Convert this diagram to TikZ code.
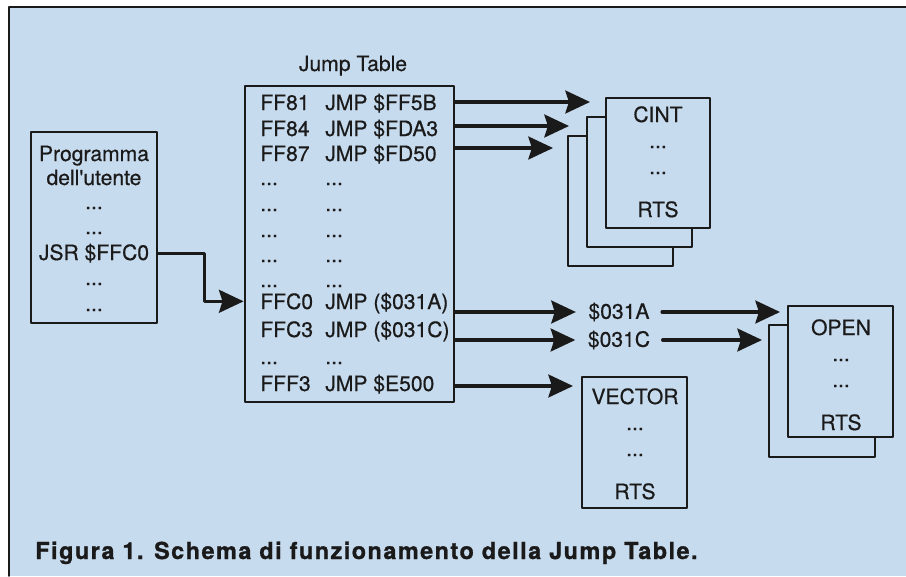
\documentclass[tikz,border=0pt]{standalone}
\usepackage{fontspec}
\setmainfont{TeX Gyre Heros}
\newfontfamily\diagfont[FakeBold=0.5]{TeX Gyre Heros}
\newfontfamily\capfont[LetterSpace=6.5,FakeBold=1]{TeX Gyre Heros}
\usetikzlibrary{arrows.meta,fit}
\definecolor{PaperBlue}{HTML}{C7DBEE}
\definecolor{Ink}{HTML}{1A1A1A}
\tikzset{
  page/.style={draw=Ink,fill=PaperBlue,line width=1.6pt,inner sep=0pt},
  lbl/.style={text=Ink,font=\diagfont\fontsize{12}{14}\selectfont,inner sep=0pt},
  jump/.style={-{Stealth[length=14pt,width=13pt,inset=2pt]},draw=Ink,
               line width=1.9pt},
}
\newcommand{\drawpage}[5]{%
  \node[page,fit={(#2,#3) (#4,#5)}] (#1) {};%
}
\newcommand{\drawroutine}[4]{%
  \node[lbl,anchor=base] (#1name) at (#2,#3) {#4};
  \node[lbl,anchor=base] (#1dotsa) at (#2,{#3-26}) {...};
  \node[lbl,anchor=base] (#1dotsb) at (#2,{#3-52}) {...};
  \node[lbl,anchor=base] (#1rts) at (#2,{#3-95}) {RTS};%
}
\newcommand{\tablerow}[4]{%
  \node[lbl,anchor=base west] (adr#1) at (260,#2) {#3};
  \node[lbl,anchor=base west] (ins#1) at (325,#2) {#4};%
}

\begin{document}
\begin{tikzpicture}[x=0.02cm,y=0.02cm,line cap=round,line join=round]
        \useasboundingbox (0,0) rectangle (906,576);
        \path[fill=PaperBlue] (9,0) rectangle (906,569);
        \draw[Ink,line width=1.1pt] (906,569) -- (9,569) -- (9,0);
        \drawpage{prog}{31}{444}{157}{253}
        \node[lbl,anchor=base] (prog1) at (94,415) {Programma};
        \node[lbl,anchor=base] (prog2) at (94,391) {dell'utente};
        \node[lbl,anchor=base] (prog3) at (94,367) {...};
        \node[lbl,anchor=base] (prog4) at (94,342) {...};
        \node[lbl,anchor=base] (jsr) at (94,316) {JSR \$FFC0};
        \node[lbl,anchor=base] (prog6) at (94,291) {...};
        \node[lbl,anchor=base] (prog7) at (94,265) {...};
        \drawpage{jt}{245}{490}{454}{174}
        \node[lbl,anchor=base] (jttitle) at (353,505) {Jump Table};
        \tablerow{1}{466}{FF81}{JMP \$FF5B}
        \tablerow{2}{440}{FF84}{JMP \$FDA3}
        \tablerow{3}{415}{FF87}{JMP \$FD50}
        \tablerow{4}{391}{...}{...}
        \tablerow{5}{365}{...}{...}
        \tablerow{6}{339}{...}{...}
        \tablerow{7}{314}{...}{...}
        \tablerow{8}{289}{...}{...}
        \tablerow{9}{267}{FFC0}{JMP (\$031A)}
        \tablerow{10}{239}{FFC3}{JMP (\$031C)}
        \tablerow{11}{212}{...}{...}
        \tablerow{12}{185}{FFF3}{JMP \$E500}
        \draw[jump] (prog.east |- jsr) -- ++(46,0) |- (jt.west |- adr9);
        \drawpage{cintc}{568}{440}{673}{310}
        \drawpage{cintb}{587}{459}{692}{329}
        \drawpage{cinta}{606}{478}{710}{348}
        \drawroutine{cint}{658}{454}{CINT}
        \coordinate (tipa) at (590,474);
        \coordinate (tipb) at (569,450);
        \coordinate (tipc) at (553,428);
        \draw[jump] (jt.east |- tipa) -- (tipa);
        \draw[jump] (jt.east |- tipb) -- (tipb);
        \draw[jump] (jt.east |- tipc) -- (tipc);
        \node[lbl,inner xsep=7pt] (ptra) at (619,264) {\$031A};
        \node[lbl,inner xsep=7pt] (ptrb) at (619,236) {\$031C};
        \draw[jump] (jt.east |- ptra) -- (ptra.west);
        \draw[jump] (jt.east |- ptrb) -- (ptrb.west);
        \drawpage{openb}{769}{251}{875}{119}
        \drawpage{opena}{788}{270}{893}{139}
        \drawroutine{open}{841}{241}{OPEN}
        \coordinate (tipd) at (780,265);
        \coordinate (tipe) at (762,236);
        \draw[jump] (ptra.east) -- (ptra.east -| tipd);
        \draw[jump] (ptrb.east) -- (ptrb.east -| tipe);
        \drawpage{vector}{582}{199}{687}{68}
        \drawroutine{vec}{635}{172}{VECTOR}
        \coordinate (tipf) at (573,190);
        \draw[jump] (jt.east |- tipf) -- (tipf);
        \node[anchor=base west,inner sep=0pt,text=Ink,
              font=\capfont\bfseries\fontsize{13.3}{15}\selectfont] (caption) at (35,17)
          {Figura 1. Schema di funzionamento della Jump Table.};
      \end{tikzpicture}
\end{document}
